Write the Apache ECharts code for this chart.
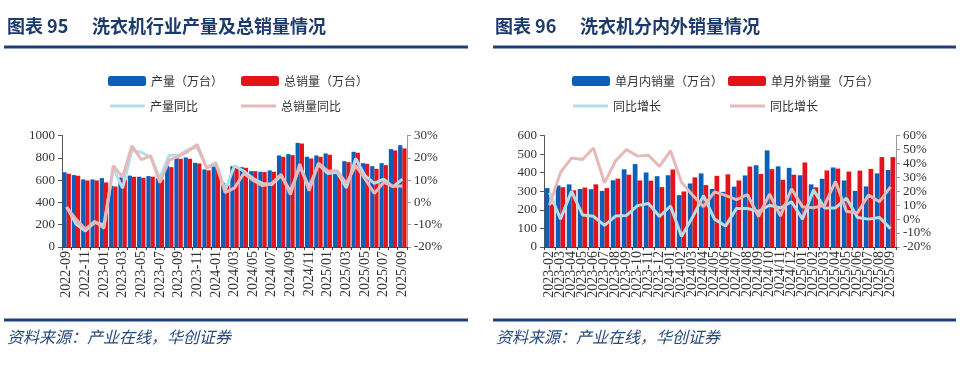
<!DOCTYPE html>
<html><head><meta charset="utf-8">
<script src="https://cdn.jsdelivr.net/npm/echarts@6/dist/echarts.min.js"></script>
<style>html,body{margin:0;padding:0;background:#fff}#c{width:960px;height:370px}</style>
</head><body><div id="c"></div>
<script>
// ---- Chart 95 data ----
const leftCats = ['2022-09','2022-10','2022-11','2022-12','2023-01','2023-02','2023-03','2023-04','2023-05','2023-06','2023-07','2023-08','2023-09','2023-10','2023-11','2023-12','2024-01','2024-02','2024/03','2024/04','2024/05','2024/06','2024/07','2024/08','2024/09','2024/10','2024/11','2024/12','2025/01','2025/02','2025/03','2025/04','2025/05','2025/06','2025/07','2025/08','2025/09'];
const production = [670,645,606,606,618,549,625,640,630,636,616,728,797,803,755,696,722,576,725,716,680,675,687,821,833,934,809,821,839,665,770,854,752,725,752,878,913];
const totalSales = [657,639,597,597,579,543,603,630,621,630,606,716,791,791,749,687,700,555,710,710,680,672,675,809,824,928,794,809,827,655,761,845,746,701,734,866,884];
const productionYoY = [-2,-9.7,-12.8,-9,-10,15.4,6.4,23.3,22.5,20.3,11,21.2,21,23.6,24.7,15.7,18,5.3,16.5,14,10.7,8.5,8,12,5,16,7,17,13,13.5,6.5,19.7,12,8.5,10.4,7,10.4];
const salesYoY = [-2.2,-7.5,-12,-8.5,-11.6,16.5,11.4,25.4,19.2,20.9,8.8,19,20.6,22.9,26,15.5,17.3,4.4,6.5,13,9.8,7.5,8.5,12.6,3.5,17.2,5.2,17.6,14,14.3,8.5,16.5,10.5,4,9,7.2,7.4];

// ---- Chart 96 data ----
const rightCats = ['2023-02','2023-03','2023-04','2023-05','2023-06','2023-07','2023-08','2023-09','2023-10','2023-11','2023-12','2024-01','2024-02','2024/03','2024/04','2024/05','2024/06','2024/07','2024/08','2024/09','2024/10','2024/11','2024/12','2025/01','2025/02','2025/03','2025/04','2025/05','2025/06','2025/07','2025/08','2025/09'];
const domesticSales = [317,331,337,312,311,302,359,418,446,401,381,386,279,342,396,312,297,325,385,440,520,434,426,386,337,367,428,358,302,326,396,414];
const exportSales = [230,322,305,320,337,317,368,389,358,357,322,417,299,375,333,383,391,358,433,393,419,362,389,455,321,412,422,406,411,420,484,484];
const domesticYoY = [19,0,20,3,2,-4.5,2.2,2.6,9.7,11.2,1.9,9.4,-12.5,1.3,16.9,0,-5,7.7,7.6,5.5,10,8,12.5,0,21,8,8,15,1.2,0,1.2,-6.8];
const exportYoY = [10,33.5,43.8,42.8,51,26,41.7,50,45.2,45.8,37.8,49,26.5,17.3,8.9,19.6,17,14,17.5,1.9,18,2.2,21.8,8.8,8.2,9.9,27,5.5,4.6,17.2,12.5,23.1];

const leftAxisTicks = {min:0, max:1000, interval:200};
const leftPctTicks = {min:-20, max:30, interval:10};
const rightAxisTicks = {min:0, max:600, interval:100};
const rightPctTicks = {min:-20, max:60, interval:10};

const BLUE = '#0B5FB8', RED = '#E3121B', LBLUE = '#B7DDE8', PINK = '#E6B9B8';
const NAVY = '#1c3a6b';
const serif = '"Liberation Serif","Times New Roman",serif';
const cjk = '"Noto Sans CJK SC","Noto Sans",sans-serif';

function xAxis(gridIndex, cats, interval){
  return {type:'category', gridIndex, data:cats, boundaryGap:true,
    axisLine:{show:true, lineStyle:{color:'#444', width:1}},
    axisTick:{show:true, length:3, inside:false, alignWithLabel:false, interval:0, lineStyle:{color:'#444'}},
    axisLabel:{rotate:90, interval:interval, margin:4, color:'#333', fontFamily:serif, fontSize:14},
    splitLine:{show:false}};
}
function yAxis(gridIndex, pos, t, pct, lineColor){
  return {type:'value', gridIndex, position:pos, min:t.min, max:t.max, interval:t.interval,
    axisLine:{show:true, lineStyle:{color:lineColor, width:1}},
    axisTick:{show:true, length:4, inside:false, lineStyle:{color:lineColor}},
    axisLabel:{margin:7, color:'#333', fontFamily:serif, fontSize:13,
      formatter: pct ? (v => v + '%') : (v => String(v))},
    splitLine:{show:false}};
}
function legend(name, left, top, isLine, fmt){
  return {data:[name], left, top, padding:0, itemGap:0,
    itemWidth: isLine ? 35 : 38, itemHeight: isLine ? 3 : 10,
    icon: isLine ? 'rect' : 'roundRect',
    formatter: fmt ? (()=>fmt) : '{name}',
    textStyle:{color:'#333', fontFamily:cjk, fontSize:12}, selectedMode:false};
}

const option = {
  animation:false,
  backgroundColor:'#fff',
  grid:[
    {left:62, right:553, top:135.5, bottom:123},
    {left:544, right:64, top:135.5, bottom:123}
  ],
  xAxis:[ xAxis(0, leftCats, 1), xAxis(1, rightCats, 0) ],
  yAxis:[
    yAxis(0,'left',leftAxisTicks,false,'#555'),
    yAxis(0,'right',leftPctTicks,true,'#999'),
    yAxis(1,'left',rightAxisTicks,false,'#555'),
    yAxis(1,'right',rightPctTicks,true,'#999')
  ],
  legend:[
    legend('产量（万台）',108,75,false),
    legend('总销量（万台）',241,75,false),
    legend('产量同比',110,100,true),
    legend('总销量同比',241,100,true),
    legend('单月内销量（万台）',572,75,false),
    legend('单月外销量（万台）',728,75,false),
    legend('内销同比增长',573,100,true,'同比增长'),
    legend('外销同比增长',730,100,true,'同比增长')
  ],
  series:[
    {name:'产量（万台）', type:'bar', xAxisIndex:0, yAxisIndex:0, data:production, itemStyle:{color:BLUE}, barGap:'0%', barCategoryGap:'10%'},
    {name:'总销量（万台）', type:'bar', xAxisIndex:0, yAxisIndex:0, data:totalSales, itemStyle:{color:RED}, barGap:'0%', barCategoryGap:'10%'},
    {name:'产量同比', type:'line', xAxisIndex:0, yAxisIndex:1, data:productionYoY, symbol:'none', lineStyle:{color:LBLUE, width:3}, itemStyle:{color:LBLUE}, z:3},
    {name:'总销量同比', type:'line', xAxisIndex:0, yAxisIndex:1, data:salesYoY, symbol:'none', lineStyle:{color:PINK, width:3}, itemStyle:{color:PINK}, z:3},
    {name:'单月内销量（万台）', type:'bar', xAxisIndex:1, yAxisIndex:2, data:domesticSales, itemStyle:{color:BLUE}, barGap:'0%', barCategoryGap:'14%'},
    {name:'单月外销量（万台）', type:'bar', xAxisIndex:1, yAxisIndex:2, data:exportSales, itemStyle:{color:RED}, barGap:'0%', barCategoryGap:'14%'},
    {name:'内销同比增长', type:'line', xAxisIndex:1, yAxisIndex:3, data:domesticYoY, symbol:'none', lineStyle:{color:LBLUE, width:3}, itemStyle:{color:LBLUE}, z:3},
    {name:'外销同比增长', type:'line', xAxisIndex:1, yAxisIndex:3, data:exportYoY, symbol:'none', lineStyle:{color:PINK, width:3}, itemStyle:{color:PINK}, z:3}
  ],
  graphic:[
    {type:'text', left:7, top:17, style:{text:'图表 95', font:'bold 18px '+cjk, fill:NAVY}},
    {type:'text', left:92, top:17, style:{text:'洗衣机行业产量及总销量情况', font:'bold 18px '+cjk, fill:NAVY}},
    {type:'text', left:495, top:17, style:{text:'图表 96', font:'bold 18px '+cjk, fill:NAVY}},
    {type:'text', left:580, top:17, style:{text:'洗衣机分内外销量情况', font:'bold 18px '+cjk, fill:NAVY}},
    {type:'rect', shape:{x:4, y:45.5, width:464, height:3}, style:{fill:'#1f3f7a'}},
    {type:'rect', shape:{x:493, y:45.5, width:463, height:3}, style:{fill:'#1f3f7a'}},
    {type:'rect', shape:{x:4, y:318.5, width:464, height:3}, style:{fill:'#1f3f7a'}},
    {type:'rect', shape:{x:493, y:318.5, width:463, height:3}, style:{fill:'#1f3f7a'}},
    {type:'text', left:7, top:329, style:{text:'资料来源：产业在线，华创证券', font:'italic 16px '+cjk, fill:'#264a7e'}},
    {type:'text', left:496, top:329, style:{text:'资料来源：产业在线，华创证券', font:'italic 16px '+cjk, fill:'#264a7e'}}
  ]
};
const chart = echarts.init(document.getElementById('c'), null, {renderer:'canvas'});
chart.setOption(option);
</script>
</body></html>
